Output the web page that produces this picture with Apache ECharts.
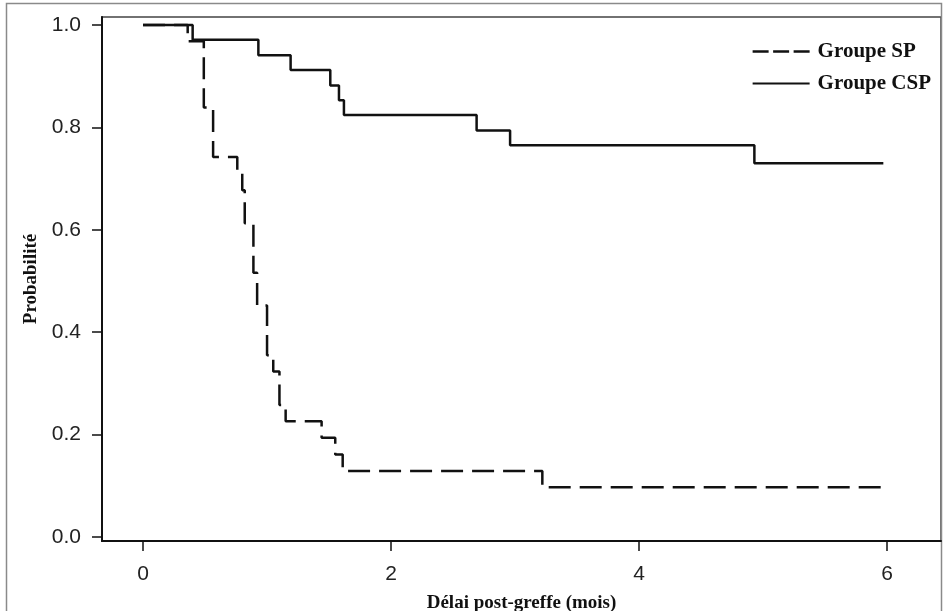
<!DOCTYPE html>
<html>
<head>
  <meta charset="UTF-8">
  <title>Probabilité - Groupe SP / Groupe CSP</title>
  <script src="https://cdn.jsdelivr.net/npm/echarts@6/dist/echarts.min.js"></script>
  <style>
    html, body { margin: 0; padding: 0; background: #fff; }
    #main { width: 944px; height: 611px; }
  </style>
</head>
<body>
<div id="main"></div>
<script>
  // Kaplan-Meier steps (time in months, survival probability)
  const spTime = [0, 0.36, 0.49, 0.565, 0.76, 0.80, 0.82, 0.89, 0.92, 1.00, 1.05, 1.10, 1.15, 1.44, 1.55, 1.61, 3.22, 5.97];
  const spSurv = [1, 0.968, 0.839, 0.742, 0.710, 0.677, 0.613, 0.516, 0.452, 0.355, 0.323, 0.258, 0.226, 0.194, 0.161, 0.129, 0.097, 0.097];

  const cspTime = [0, 0.40, 0.93, 1.19, 1.51, 1.58, 1.62, 2.69, 2.96, 4.93, 5.97];
  const cspSurv = [1, 0.971, 0.941, 0.912, 0.882, 0.853, 0.824, 0.794, 0.765, 0.730, 0.730];

  const xTicks = [0, 2, 4, 6];
  const yTicks = [0, 0.2, 0.4, 0.6, 0.8, 1.0];

  const ink = '#111';
  const tickFont = { fontFamily: 'Liberation Sans', fontSize: 21, color: '#222' };
  const nameFont = { fontFamily: 'Liberation Serif', fontWeight: 'bold', fontSize: 19, color: '#111' };

  // legend keys: three dashes for SP, one solid stroke for CSP
  const dashIcon = 'path://M0,0h16v2.5h-16z M20.5,0h16v2.5h-16z M41,0h16v2.5h-16z';
  const solidIcon = 'path://M0,0h57v2h-57z';

  const chart = echarts.init(document.getElementById('main'), null, { renderer: 'canvas' });
  chart.setOption({
    animation: false,
    backgroundColor: '#fff',
    graphic: [{
      // thin grey frame round the whole figure
      type: 'rect',
      shape: { x: 6.5, y: 3.5, width: 935, height: 620 },
      style: { fill: 'none', stroke: '#8a8a8a', lineWidth: 1.5 },
      silent: true
    }],
    grid: {
      left: 102, right: 3, top: 17, bottom: 70,
      outerBoundsMode: 'none',
      containLabel: false,
      show: true, borderColor: '#444', borderWidth: 1.5
    },
    legend: {
      orient: 'vertical',
      right: 8,
      top: 36,
      itemWidth: 57,
      itemHeight: 14,
      itemGap: 11,
      textStyle: { fontFamily: 'Liberation Serif', fontWeight: 'bold', fontSize: 21, color: '#111', padding: [0, 0, 0, 3] },
      data: [
        { name: 'Groupe SP', icon: dashIcon },
        { name: 'Groupe CSP', icon: solidIcon }
      ]
    },
    xAxis: {
      type: 'value',
      min: -0.331,
      max: 6.435,
      name: 'Délai post-greffe (mois)',
      nameLocation: 'middle',
      nameGap: 53,
      nameTextStyle: nameFont,
      axisLine: { show: true, onZero: false, lineStyle: { color: ink, width: 2 } },
      axisTick: { show: true, length: 10, customValues: xTicks, lineStyle: { color: ink, width: 1.5 } },
      axisLabel: { customValues: xTicks, margin: 23, ...tickFont },
      splitLine: { show: false }
    },
    yAxis: {
      type: 'value',
      min: -0.0078,
      max: 1.0156,
      name: 'Probabilité',
      nameLocation: 'middle',
      nameGap: 60,
      nameTextStyle: nameFont,
      axisLine: { show: true, onZero: false, lineStyle: { color: ink, width: 2 } },
      axisTick: { show: true, length: 10, customValues: yTicks, lineStyle: { color: ink, width: 1.5 } },
      axisLabel: { customValues: yTicks, margin: 21, formatter: v => v.toFixed(1), ...tickFont },
      splitLine: { show: false }
    },
    series: [
      {
        name: 'Groupe SP',
        type: 'line',
        step: 'end',
        symbol: 'none',
        color: ink,
        lineStyle: { color: ink, width: 2.5, type: [22, 9] },
        data: spTime.map((t, i) => [t, spSurv[i]])
      },
      {
        name: 'Groupe CSP',
        type: 'line',
        step: 'end',
        symbol: 'none',
        color: ink,
        lineStyle: { color: ink, width: 2.5 },
        data: cspTime.map((t, i) => [t, cspSurv[i]])
      }
    ]
  });
</script>
</body>
</html>
